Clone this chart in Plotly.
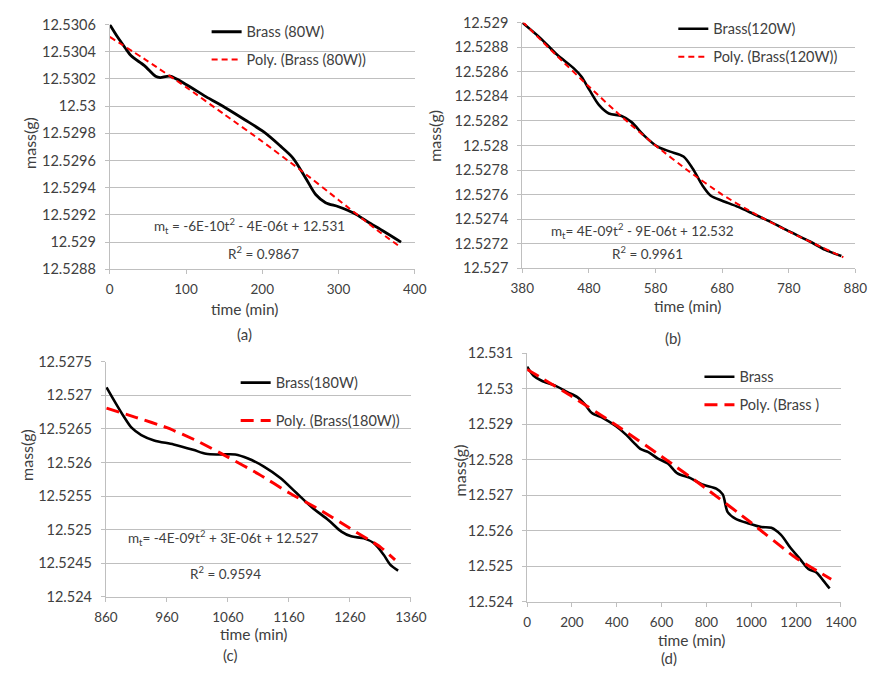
import plotly.graph_objects as go

# ---------------- data ----------------
# (a) Brass 80W
t_a = [0, 10, 20, 28, 45, 60, 66, 79, 100, 126, 151, 177, 202, 223, 240, 257, 270, 283, 300, 321, 338, 359, 382]
m_a = [12.5306, 12.53051, 12.53043, 12.53037, 12.5303, 12.53022, 12.53021, 12.53022, 12.53016, 12.53007,
       12.52999, 12.5299, 12.52981, 12.52971, 12.52962, 12.52947, 12.52935, 12.52929, 12.52926, 12.52921,
       12.52915, 12.52908, 12.529]
t_a_fit = [0, 50, 100, 150, 200, 250, 300, 350, 382]
m_a_fit = [12.53051, 12.53033, 12.53014, 12.52994, 12.52974, 12.52953, 12.52931, 12.52909, 12.52896]

# (b) Brass 120W
t_b = [380, 408, 432, 457, 469, 481, 495, 510, 529, 544, 563, 583, 602, 622, 636, 651, 663, 680, 704, 728,
       752, 781, 811, 835, 859]
m_b = [12.529, 12.52887, 12.52874, 12.52863, 12.52856, 12.52845, 12.52833, 12.52826, 12.52824, 12.52819,
       12.52808, 12.52799, 12.52795, 12.52791, 12.52781, 12.52767, 12.52759, 12.52755, 12.5275, 12.52744,
       12.52738, 12.5273, 12.52722, 12.52715, 12.5271]
t_b_fit = [380, 430, 480, 530, 580, 630, 680, 730, 780, 830, 862]
m_b_fit = [12.52901, 12.52874, 12.52848, 12.52823, 12.528, 12.52779, 12.5276, 12.52744, 12.5273, 12.52717, 12.52709]

# (c) Brass 180W
t_c = [861, 875, 889, 902, 918, 939, 971, 1003, 1024, 1045, 1072, 1093, 1119, 1146, 1172, 1198, 1225, 1246,
       1262, 1283, 1299, 1315, 1326, 1339]
m_c = [12.52712, 12.5269, 12.52669, 12.52652, 12.52641, 12.52633, 12.52627, 12.52619, 12.52613, 12.52612,
       12.52612, 12.52606, 12.52594, 12.52577, 12.52555, 12.52533, 12.52514, 12.52497, 12.5249, 12.52487,
       12.5248, 12.52463, 12.52448, 12.52439]
t_c_fit = [861, 910, 960, 1010, 1060, 1110, 1160, 1210, 1260, 1310, 1334]
m_c_fit = [12.52681, 12.52667, 12.52652, 12.52632, 12.52608, 12.52583, 12.52555, 12.5253, 12.52502, 12.52474, 12.52455]

# (d) Brass, whole run
t_d = [0, 29, 65, 123, 180, 224, 260, 289, 339, 397, 440, 476, 505, 541, 584, 628, 671, 729, 786, 844, 873,
       895, 931, 989, 1046, 1090, 1133, 1176, 1219, 1255, 1291, 1321, 1350]
m_d = [12.53062, 12.53036, 12.53022, 12.53009, 12.5299, 12.52976, 12.52954, 12.52931, 12.52917, 12.52894,
       12.52871, 12.52848, 12.5283, 12.52821, 12.52803, 12.52789, 12.52761, 12.52748, 12.52729, 12.52718,
       12.52702, 12.52652, 12.52633, 12.5262, 12.5261, 12.52608, 12.52588, 12.52551, 12.52519, 12.52492,
       12.52482, 12.5246, 12.52437]
t_d_fit = [0, 200, 400, 600, 800, 1000, 1200, 1357]
m_d_fit = [12.53054, 12.52978, 12.52896, 12.52809, 12.52718, 12.52622, 12.52523, 12.52463]

# tick values / labels
yv_a = [12.5288, 12.529, 12.5292, 12.5294, 12.5296, 12.5298, 12.53, 12.5302, 12.5304, 12.5306]
yt_a = ["12.5288", "12.529", "12.5292", "12.5294", "12.5296", "12.5298", "12.53", "12.5302", "12.5304", "12.5306"]
xv_a = [0, 100, 200, 300, 400]
yv_b = [12.527, 12.5272, 12.5274, 12.5276, 12.5278, 12.528, 12.5282, 12.5284, 12.5286, 12.5288, 12.529]
yt_b = ["12.527", "12.5272", "12.5274", "12.5276", "12.5278", "12.528", "12.5282", "12.5284", "12.5286", "12.5288", "12.529"]
xv_b = [380, 480, 580, 680, 780, 880]
yv_c = [12.524, 12.5245, 12.525, 12.5255, 12.526, 12.5265, 12.527, 12.5275]
yt_c = ["12.524", "12.5245", "12.525", "12.5255", "12.526", "12.5265", "12.527", "12.5275"]
xv_c = [860, 960, 1060, 1160, 1260, 1360]
yv_d = [12.524, 12.525, 12.526, 12.527, 12.528, 12.529, 12.53, 12.531]
yt_d = ["12.524", "12.525", "12.526", "12.527", "12.528", "12.529", "12.53", "12.531"]
xv_d = [0, 200, 400, 600, 800, 1000, 1200, 1400]

names = ["Brass (80W)", "Brass(120W)", "Brass(180W)", "Brass"]
fit_names = ["Poly. (Brass (80W))", "Poly. (Brass(120W))", "Poly. (Brass(180W))", "Poly. (Brass )"]
equations = ["m<sub>t</sub> = -6E-10t<sup>2</sup> - 4E-06t + 12.531",
             "m<sub>t</sub>= 4E-09t<sup>2</sup> - 9E-06t + 12.532",
             "m<sub>t</sub>= -4E-09t<sup>2</sup> + 3E-06t + 12.527"]
r2 = ["R<sup>2</sup> = 0.9867", "R<sup>2</sup> = 0.9961", "R<sup>2</sup> = 0.9594"]
captions = ["(a)", "(b)", "(c)", "(d)"]

# ---------------- layout helpers ----------------
W, H = 882, 673
FONT = "Lato, Open Sans, sans-serif"
TXT = "#404040"
GRID = "#bfbfbf"


def px(x):
    return x / W


def py(y):
    return 1 - y / H


# panel boxes in pixels: left, right, top, bottom
boxes = [(101, 416, 16, 267), (527, 871, 14, 266), (97, 412, 362, 603), (532, 856, 353, 608)]
xranges = [[0, 400], [380, 880], [860, 1360], [0, 1400]]
yranges = [[12.5288, 12.5306], [12.527, 12.529], [12.524, 12.5275], [12.524, 12.531]]
xvals = [xv_a, xv_b, xv_c, xv_d]
yvals = [(yv_a, yt_a), (yv_b, yt_b), (yv_c, yt_c), (yv_d, yt_d)]

series = [(t_a, m_a, t_a_fit, m_a_fit), (t_b, m_b, t_b_fit, m_b_fit),
          (t_c, m_c, t_c_fit, m_c_fit), (t_d, m_d, t_d_fit, m_d_fit)]
black_w = [2.8, 2.6, 2.6, 2.6]
red_w = [2.0, 2.0, 3.0, 3.0]
red_dash = ["6px,4px", "6px,4px", "13px,7px", "13px,7px"]

fig = go.Figure()
layout = dict(width=W, height=H, margin=dict(l=0, r=0, t=0, b=0),
              paper_bgcolor="white", plot_bgcolor="white", showlegend=True,
              font=dict(family=FONT, size=13, color=TXT))

# legend positions: left px, top px, gap
leg_pos = [(201, 7, 6), (683, 4, 6), (231, 367, 16), (710, 361, 6)]

for i in range(4):
    sfx = "" if i == 0 else str(i + 1)
    t, m, tf, mf = series[i]
    lg = "legend" + sfx
    fig.add_trace(go.Scatter(x=t, y=m, mode="lines", name=names[i],
                             line=dict(color="black", width=black_w[i], shape="spline", smoothing=0.8),
                             xaxis="x" + sfx, yaxis="y" + sfx, legend=lg, legendgroup="d" + str(i)))
    fig.add_trace(go.Scatter(x=tf, y=mf, mode="lines", name=fit_names[i],
                             line=dict(color="#ff0000", width=red_w[i], dash=red_dash[i], shape="spline",
                                       smoothing=0.5),
                             xaxis="x" + sfx, yaxis="y" + sfx, legend=lg, legendgroup="f" + str(i)))
    l, r, tp, bt = boxes[i]
    layout["xaxis" + sfx] = dict(domain=[px(l), px(r)], anchor="y" + sfx, range=xranges[i],
                                 tickvals=xvals[i], ticktext=[str(v) for v in xvals[i]],
                                 showgrid=False, zeroline=False, showline=True, linecolor=GRID, linewidth=1,
                                 ticks="outside", ticklen=4, tickcolor=GRID, ticklabelstandoff=4,
                                 tickfont=dict(family=FONT, size=13.5, color=TXT))
    layout["yaxis" + sfx] = dict(domain=[py(bt), py(tp)], anchor="x" + sfx, range=yranges[i],
                                 tickvals=yvals[i][0], ticktext=yvals[i][1],
                                 showgrid=True, gridcolor=GRID, gridwidth=1, zeroline=False,
                                 showline=True, linecolor=GRID, linewidth=1,
                                 ticks="outside", ticklen=4, tickcolor=GRID, ticklabelstandoff=6,
                                 tickfont=dict(family=FONT, size=14.5, color=TXT))
    ll, lt, gap = leg_pos[i]
    layout[lg] = dict(x=px(ll), y=py(lt), xanchor="left", yanchor="top", bgcolor="rgba(0,0,0,0)",
                      borderwidth=0, tracegroupgap=gap, font=dict(family=FONT, size=14.5, color=TXT),
                      itemwidth=30)

annotations = []
# axis titles and captions
xt_pos = [(240, 308), (698, 305), (249, 641), (702, 647)]
yt_pos = [(18, 137), (437, 130), (15, 458), (462, 473)]
cap_pos = [(240, 333), (683, 338), (225, 663), (679, 666)]
for i in range(4):
    annotations.append(dict(text="time (min)", x=px(xt_pos[i][0]), y=py(xt_pos[i][1]), xref="paper", yref="paper",
                            showarrow=False, xanchor="center", yanchor="middle",
                            font=dict(family=FONT, size=15.5, color=TXT)))
    annotations.append(dict(text="mass(g)", x=px(yt_pos[i][0]), y=py(yt_pos[i][1]), xref="paper", yref="paper",
                            showarrow=False, xanchor="center", yanchor="middle", textangle=-90,
                            font=dict(family=FONT, size=16, color=TXT)))
    annotations.append(dict(text=captions[i], x=px(cap_pos[i][0]), y=py(cap_pos[i][1]), xref="paper", yref="paper",
                            showarrow=False, xanchor="center", yanchor="middle",
                            font=dict(family=FONT, size=15, color=TXT)))

eq_pos = [(245, 223), (651, 228), (218, 543)]
r2_pos = [(260, 250), (656, 250), (221, 579)]
for i in range(3):
    annotations.append(dict(text=equations[i], x=px(eq_pos[i][0]), y=py(eq_pos[i][1]), xref="paper", yref="paper",
                            showarrow=False, xanchor="center", yanchor="middle",
                            font=dict(family=FONT, size=13.5, color=TXT)))
    annotations.append(dict(text=r2[i], x=px(r2_pos[i][0]), y=py(r2_pos[i][1]), xref="paper", yref="paper",
                            showarrow=False, xanchor="center", yanchor="middle",
                            font=dict(family=FONT, size=13.5, color=TXT)))

layout["annotations"] = annotations
fig.update_layout(**layout)
fig.write_html("out.html")
